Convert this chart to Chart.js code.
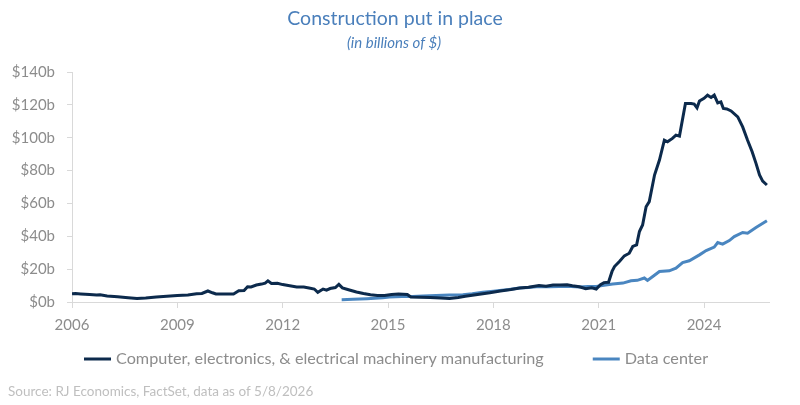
<!DOCTYPE html>
<html>
<head>
<meta charset="utf-8">
<script src="https://cdn.jsdelivr.net/npm/chart.js@4/dist/chart.umd.min.js"></script>
<style>
  html, body { margin: 0; padding: 0; background: #fff; }
  #wrap { width: 800px; height: 405px; position: relative; }
</style>
</head>
<body>
<div id="wrap"><canvas id="cpipChart"></canvas></div>
<script>
// Construction put in place, billions of $
const mfgYears = [
  2006.0, 2006.1, 2006.25, 2006.5, 2006.7, 2006.8, 2007.0, 2007.3, 2007.6, 2007.85,
  2008.1, 2008.4, 2008.7, 2009.0, 2009.3, 2009.55, 2009.7, 2009.87, 2010.0, 2010.1,
  2010.4, 2010.6, 2010.75, 2010.9, 2011.0, 2011.1, 2011.25, 2011.4, 2011.5, 2011.58,
  2011.68, 2011.85, 2012.0, 2012.2, 2012.4, 2012.6, 2012.75, 2012.9, 2013.0, 2013.15,
  2013.25, 2013.35, 2013.5, 2013.6, 2013.7, 2013.9, 2014.1, 2014.3, 2014.5, 2014.7,
  2014.9, 2015.1, 2015.3, 2015.55, 2015.65, 2015.9, 2016.2, 2016.5, 2016.75, 2017.0,
  2017.2, 2017.5, 2017.7, 2017.9, 2018.2, 2018.5, 2018.75, 2019.0, 2019.3, 2019.5,
  2019.7, 2019.9, 2020.1, 2020.25, 2020.45, 2020.63, 2020.8, 2020.93, 2021.05, 2021.15,
  2021.28, 2021.38, 2021.45, 2021.59, 2021.73, 2021.87, 2021.97, 2022.08, 2022.16, 2022.25,
  2022.35, 2022.44, 2022.59, 2022.73, 2022.87, 2022.96, 2023.1, 2023.2, 2023.3, 2023.47,
  2023.63, 2023.72, 2023.8, 2023.87, 2024.0, 2024.1, 2024.2, 2024.29, 2024.39, 2024.48,
  2024.55, 2024.65, 2024.77, 2024.96, 2025.1, 2025.24, 2025.37, 2025.48, 2025.58, 2025.67,
  2025.79
];
const mfgValues = [
  5.0, 5.2, 4.9, 4.5, 4.2, 4.4, 3.6, 3.2, 2.6, 2.1,
  2.4, 3.0, 3.5, 4.0, 4.3, 5.0, 5.2, 6.7, 5.6, 4.9,
  4.8, 4.9, 6.8, 7.0, 9.3, 9.2, 10.3, 10.9, 11.5, 12.9,
  11.3, 11.4, 10.6, 9.9, 9.2, 9.1, 8.5, 7.9, 5.9, 7.9,
  7.2, 8.2, 8.8, 10.7, 8.6, 7.3, 6.1, 5.2, 4.4, 4.0,
  4.0, 4.6, 4.8, 4.6, 3.1, 2.9, 2.7, 2.5, 2.2, 2.8,
  3.5, 4.4, 5.0, 5.6, 6.7, 7.6, 8.5, 9.0, 10.0, 9.6,
  10.4, 10.3, 10.5, 9.9, 9.3, 8.1, 8.6, 7.9, 10.5, 11.8,
  12.0, 18.6, 21.6, 24.7, 28.1, 29.7, 33.8, 34.8, 42.9, 46.9,
  58.0, 61.1, 77.3, 86.4, 98.5, 97.5, 99.6, 101.6, 101.0, 120.8,
  120.8, 120.5, 118.2, 122.4, 124.0, 125.9, 124.5, 125.9, 121.2, 121.8,
  117.8, 117.5, 116.3, 112.7, 106.6, 98.5, 91.5, 84.4, 77.3, 73.6,
  71.2
];

const dcYears = [
  2013.68, 2014.0, 2014.4, 2014.85, 2015.04, 2015.4, 2015.7, 2016.0, 2016.37, 2016.75,
  2017.13, 2017.4, 2017.7, 2018.0, 2018.18, 2018.45, 2018.74, 2019.0, 2019.3, 2019.6,
  2019.87, 2020.1, 2020.44, 2020.7, 2020.93, 2021.15, 2021.4, 2021.69, 2021.92, 2022.1,
  2022.3, 2022.39, 2022.54, 2022.73, 2023.01, 2023.2, 2023.39, 2023.58, 2023.87, 2024.06,
  2024.29, 2024.39, 2024.53, 2024.72, 2024.86, 2025.1, 2025.24, 2025.48, 2025.79
];
const dcValues = [
  1.4, 1.6, 2.0, 2.6, 3.0, 3.3, 3.4, 3.7, 4.0, 4.2,
  4.4, 5.0, 5.9, 6.6, 7.0, 7.6, 8.5, 8.8, 9.4, 9.3,
  9.5, 9.6, 9.1, 9.4, 9.5, 10.2, 10.9, 11.5, 12.9, 13.2,
  14.6, 13.1, 15.5, 18.6, 19.0, 20.6, 24.0, 25.1, 28.7, 31.3,
  33.4, 36.2, 35.2, 37.4, 39.8, 42.3, 41.9, 45.3, 49.4
];

const seriesNames = ['Computer, electronics, & electrical machinery manufacturing', 'Data center'];
const xTickYears = [2006, 2009, 2012, 2015, 2018, 2021, 2024];
const yTickValues = [0, 20, 40, 60, 80, 100, 120, 140];

const NAVY = '#0c2a4c';
const BLUE = '#4a86c0';
const AXIS_GREY = '#d9d9d9';
const TICK_GREY = '#8c8c8c';

function toPoints(xs, ys) {
    return xs.map((x, i) => ({ x: x, y: ys[i] }));
}

// title, subtitle, legend and source are drawn around the plot
const captionPlugin = {
    id: 'captions',
    afterDraw(chart) {
        const ctx = chart.ctx;
        ctx.save();
        ctx.textBaseline = 'middle';
        ctx.textAlign = 'center';
        ctx.fillStyle = '#4a7fbb';
        ctx.font = '19.5px Lato';
        ctx.fillText('Construction put in place', 395, 19);
        ctx.font = 'italic 15px Lato';
        ctx.fillText('(in billions of $)', 394, 43);

        // legend
        ctx.textAlign = 'left';
        ctx.font = '16.2px Lato';
        let x = 84;
        const y = 359;
        chart.data.datasets.forEach((ds) => {
            ctx.strokeStyle = ds.borderColor;
            ctx.lineWidth = 3;
            ctx.beginPath();
            ctx.moveTo(x, y);
            ctx.lineTo(x + 27, y);
            ctx.stroke();
            ctx.fillStyle = TICK_GREY;
            ctx.fillText(ds.label, x + 32, y);
            x += 32 + ctx.measureText(ds.label).width + 49;
        });

        ctx.fillStyle = '#bfbfbf';
        ctx.font = '13.5px Lato';
        ctx.fillText('Source: RJ Economics, FactSet, data as of 5/8/2026', 8, 392);
        ctx.restore();
    }
};

const ctx = document.getElementById('cpipChart').getContext('2d');
new Chart(ctx, {
    type: 'line',
    data: {
        datasets: [
            {
                label: seriesNames[0],
                data: toPoints(mfgYears, mfgValues),
                borderColor: NAVY,
                borderWidth: 3,
                pointRadius: 0,
                tension: 0
            },
            {
                label: seriesNames[1],
                data: toPoints(dcYears, dcValues),
                borderColor: BLUE,
                borderWidth: 3,
                pointRadius: 0,
                tension: 0
            }
        ]
    },
    options: {
        responsive: true,
        maintainAspectRatio: false,
        animation: false,
        layout: { padding: { top: 72, right: 31, bottom: 71, left: 0 } },
        plugins: {
            legend: { display: false },
            tooltip: { enabled: false }
        },
        scales: {
            x: {
                type: 'linear',
                min: 2006,
                max: 2025.85,
                afterBuildTicks: (scale) => {
                    scale.ticks = xTickYears.map(v => ({ value: v }));
                },
                afterFit: (scale) => { scale.height = 32; },
                border: { display: true, color: AXIS_GREY, width: 1 },
                grid: { drawOnChartArea: false, color: AXIS_GREY, tickLength: 6 },
                ticks: {
                    color: TICK_GREY,
                    font: { family: 'Lato', size: 15 },
                    padding: 8,
                    maxRotation: 0,
                    callback: (v) => String(v)
                }
            },
            y: {
                min: 0,
                max: 140,
                afterBuildTicks: (scale) => {
                    scale.ticks = yTickValues.map(v => ({ value: v }));
                },
                afterFit: (scale) => { scale.width = 72; },
                border: { display: true, color: AXIS_GREY, width: 1 },
                grid: { drawOnChartArea: false, color: AXIS_GREY, tickLength: 5 },
                ticks: {
                    color: TICK_GREY,
                    font: { family: 'Lato', size: 15 },
                    padding: 12,
                    callback: (v) => '$' + v + 'b'
                }
            }
        }
    },
    plugins: [captionPlugin]
});
</script>
</body>
</html>
